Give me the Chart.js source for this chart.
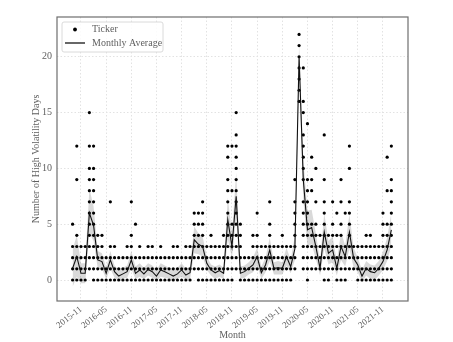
<!DOCTYPE html>
<html>
<head>
<meta charset="utf-8">
<script src="https://cdn.jsdelivr.net/npm/chart.js@4.4.1/dist/chart.umd.min.js"></script>
<style>
html, body { margin: 0; padding: 0; background: #fff; }
</style>
</head>
<body>
<canvas id="volChart" width="453" height="342"></canvas>
<script>
// months from 2015-09 to 2022-01
const months = [];
for (let k = 0; k < 77; k++) {
    const t = 2015 * 12 + 8 + k;
    months.push(`${Math.floor(t / 12)}-${String(t % 12 + 1).padStart(2, '0')}`);
}

const tickLabels = ['2015-11', '2016-05', '2016-11', '2017-05', '2017-11', '2018-05', '2018-11',
    '2019-05', '2019-11', '2020-05', '2020-11', '2021-05', '2021-11'];
const yTicks = [0, 5, 10, 15, 20];

// distinct high volatility day counts seen among tickers, per month
const tickerValues = [
    [0,1,2,3,5], [0,1,2,3,4,9,12], [0,1,2,3], [0,1,2,3], [1,2,3,4,5,6,7,8,9,10,12,15],
    [0,1,2,3,4,5,6,7,8,9,10,12], [0,1,2,3,4], [0,1,2,3,4], [0,1,2], [0,1,2,3,7],
    [0,1,2,3], [0,1,2], [0,1,2], [0,1,2,3], [0,1,2,3,4,7],
    [0,1,2,5], [0,1,2,3], [0,1,2], [0,1,2,3], [0,1,2,3],
    [0,1,2], [0,1,2,3], [0,1,2], [0,1,2], [0,1,2,3],
    [0,1,2,3], [0,1,2], [0,1,2,3], [0,1,2,3], [1,2,3,4,5,6],
    [0,1,2,3,4,5,6], [0,1,2,3,4,5,6,7], [0,1,2,3], [0,1,2,3,4], [0,1,2,3],
    [0,1,2,3], [0,1,2,3,4], [0,1,2,3,4,5,6,7,8,9,11,12], [0,1,2,3,4,5,8,12], [1,2,3,4,5,6,7,8,9,10,11,12,13,15],
    [0,1,2,3,4,5], [0,1,2], [0,1,2], [0,1,2,3,4], [0,1,2,3,4,6],
    [0,1,2,3], [0,1,2,3], [0,1,2,3,4,5,7], [0,1,2,3], [0,1,2,3],
    [0,1,2,3,4], [0,1,2,3], [0,1,2,3], [1,2,3,4,5,6,7,9], [16,17,18,19,20,21,22],
    [1,2,3,4,5,6,7,9,10,11,12,13,15,16,19], [0,1,2,3,4,5,6,7,8,9,14], [1,2,3,4,5,8,9,11], [1,2,3,4,5,7,10], [1,2,3,4],
    [0,1,2,3,4,5,6,7,9,13], [0,1,2,3,4], [1,2,3,4,5,7], [0,1,2,3,4,6], [0,1,2,3,4,5,7,9],
    [0,1,2,3,6], [1,2,3,4,5,6,7,10,12], [1,2,3], [0,1,2,3], [0,1,2,3],
    [0,1,2,3,4], [0,1,2,3,4], [0,1,2,3], [0,1,2,3], [0,1,2,3,4,5,6],
    [0,1,2,3,4,5,8,11], [0,1,2,3,4,5,6,7,8,9,12]
];

const monthlyAverage = [
    1.05, 2.1, 0.6, 0.6, 6.0, 4.9, 1.8, 1.65, 0.6, 1.8,
    0.75, 0.35, 0.55, 0.75, 1.8, 0.6, 0.9, 0.55, 0.95, 0.75,
    0.35, 0.9, 0.75, 0.55, 0.35, 0.55, 0.9, 0.45, 0.65, 3.6,
    3.2, 3.0, 1.5, 0.9, 0.65, 0.85, 0.6, 5.4, 3.0, 7.5,
    0.6, 0.75, 1.05, 1.35, 2.1, 0.65, 1.35, 2.7, 1.05, 1.1,
    1.05, 2.1, 1.2, 2.8, 20.0, 9.0, 4.5, 4.7, 3.0, 1.05,
    4.3, 2.4, 2.7, 1.05, 3.0, 2.1, 4.3, 1.95, 1.35, 0.35,
    1.05, 0.75, 0.65, 1.05, 1.65, 2.7, 4.5
];

const bandLower = [
    -0.6, 0.3, -0.3, -0.3, 4.2, 3.5, 1.0, 1.0, 0.1, 1.0,
    0.2, -0.1, 0.1, 0.2, 1.0, 0.1, 0.3, 0.1, 0.4, 0.2,
    -0.1, 0.3, 0.2, 0.1, -0.1, 0.1, 0.3, 0.0, 0.1, 2.4,
    2.3, 2.1, 0.9, 0.4, 0.1, 0.3, 0.1, 3.6, 2.0, 5.6,
    0.1, 0.2, 0.5, 0.7, 1.3, 0.1, 0.7, 1.7, 0.5, 0.5,
    0.5, 1.3, 0.6, 1.8, 18.9, 7.2, 3.0, 3.2, 1.9, 0.4,
    2.8, 1.4, 1.6, 0.4, 1.8, 1.2, 2.8, 1.1, 0.7, -0.2,
    0.4, 0.1, 0.0, 0.4, 0.9, 1.7, 3.1
];

const bandUpper = [
    2.7, 4.0, 1.5, 1.5, 8.2, 6.6, 2.6, 2.4, 1.1, 2.6,
    1.3, 0.9, 1.1, 1.3, 2.6, 1.2, 1.5, 1.1, 1.5, 1.3,
    0.9, 1.5, 1.3, 1.1, 0.9, 1.1, 1.5, 1.0, 1.2, 4.8,
    4.2, 3.9, 2.1, 1.4, 1.2, 1.4, 1.1, 7.4, 4.2, 9.6,
    1.2, 1.3, 1.6, 2.0, 2.9, 1.2, 2.0, 3.8, 1.6, 1.7,
    1.6, 2.9, 1.8, 4.0, 21.2, 10.9, 6.2, 6.3, 4.2, 1.7,
    6.0, 3.5, 3.9, 1.7, 4.3, 3.1, 5.9, 2.9, 2.0, 0.9,
    1.7, 1.4, 1.3, 1.7, 2.5, 3.8, 6.0
];

const tickerPoints = tickerValues.flatMap((vals, i) => vals.map(v => ({ x: i, y: v })));
const toXY = arr => arr.map((v, i) => ({ x: i, y: v }));
const tickPositions = tickLabels.map(l => months.indexOf(l));

const FONT = "'Liberation Serif', 'DejaVu Serif', serif";
const GREY = '#606060';
Chart.defaults.font.family = FONT;

const frameAndLegend = {
    id: 'frameAndLegend',
    afterDraw(chart) {
        const { ctx, chartArea: a } = chart;
        ctx.save();
        ctx.strokeStyle = '#6e6e6e';
        ctx.lineWidth = 1.2;
        ctx.strokeRect(a.left, a.top, a.right - a.left, a.bottom - a.top);

        // legend box
        const bx = a.left + 5, by = a.top + 5, bw = 101, bh = 30;
        ctx.fillStyle = 'rgba(255,255,255,0.85)';
        ctx.strokeStyle = '#dadada';
        ctx.lineWidth = 1;
        ctx.beginPath();
        ctx.roundRect(bx, by, bw, bh, 2);
        ctx.fill();
        ctx.stroke();

        ctx.fillStyle = '#000';
        ctx.beginPath();
        ctx.arc(bx + 13, by + 7.5, 1.9, 0, Math.PI * 2);
        ctx.fill();
        ctx.strokeStyle = '#000';
        ctx.lineWidth = 1.2;
        ctx.beginPath();
        ctx.moveTo(bx + 3, by + 21);
        ctx.lineTo(bx + 23, by + 21);
        ctx.stroke();

        ctx.fillStyle = GREY;
        ctx.font = `10px ${FONT}`;
        ctx.textBaseline = 'middle';
        ctx.fillText(chart.data.datasets[2].label, bx + 30, by + 7.5);
        ctx.fillText(chart.data.datasets[3].label, bx + 30, by + 21);
        ctx.restore();
    }
};

new Chart('volChart', {
    type: 'line',
    data: {
        datasets: [{
            label: 'lower',
            data: toXY(bandLower),
            borderWidth: 0,
            pointRadius: 0,
            fill: false,
            order: 3
        }, {
            label: 'upper',
            data: toXY(bandUpper),
            borderWidth: 0,
            pointRadius: 0,
            fill: 0,
            backgroundColor: 'rgba(0,0,0,0.15)',
            order: 2
        }, {
            type: 'scatter',
            label: 'Ticker',
            data: tickerPoints,
            pointRadius: 1.6,
            pointBorderWidth: 0,
            backgroundColor: '#000',
            order: 1
        }, {
            label: 'Monthly Average',
            data: toXY(monthlyAverage),
            borderColor: '#111',
            borderWidth: 1.1,
            pointRadius: 0,
            tension: 0,
            fill: false,
            order: 0
        }]
    },
    options: {
        responsive: false,
        animation: false,
        layout: { padding: { left: 26, right: 45, top: 17, bottom: 0 } },
        plugins: {
            legend: { display: false },
            tooltip: { enabled: false }
        },
        scales: {
            x: {
                type: 'linear',
                min: -3.72,
                max: 79.97,
                afterBuildTicks: scale => { scale.ticks = tickPositions.map(v => ({ value: v })); },
                afterFit: scale => { scale.height = 41; },
                border: { display: false, dash: [1.5, 2] },
                grid: { color: '#e2e2e2', drawTicks: false },
                ticks: {
                    autoSkip: false,
                    minRotation: 38,
                    maxRotation: 38,
                    padding: 3,
                    color: GREY,
                    font: { size: 9 },
                    callback: v => months[v]
                },
                title: {
                    display: true,
                    text: 'Month',
                    color: GREY,
                    font: { size: 10 },
                    padding: { top: 0, bottom: 1 }
                }
            },
            y: {
                min: -1.88,
                max: 23.56,
                afterBuildTicks: scale => { scale.ticks = yTicks.map(v => ({ value: v })); },
                afterFit: scale => { scale.width = 31; },
                border: { display: false, dash: [1.5, 2] },
                grid: { color: '#e2e2e2', drawTicks: false },
                ticks: {
                    padding: 5,
                    color: GREY,
                    font: { size: 10 }
                },
                title: {
                    display: true,
                    text: 'Number of High Volatility Days',
                    color: GREY,
                    font: { size: 10 }
                }
            }
        }
    },
    plugins: [frameAndLegend]
});
</script>
</body>
</html>
